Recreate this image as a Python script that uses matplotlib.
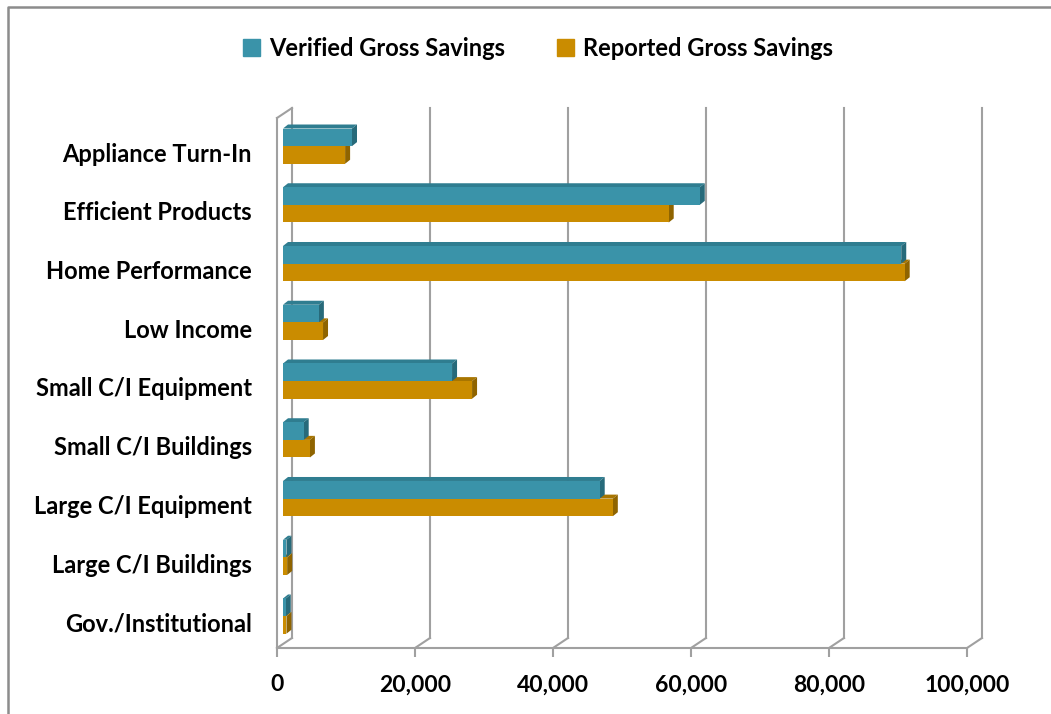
import numpy as np
import matplotlib
matplotlib.use('Agg')
import matplotlib.pyplot as plt
from matplotlib.patches import Polygon
from matplotlib.lines import Line2D

# 数据（从图中读取，单位与原图相同）
categories = ['Appliance Turn-In', 'Efficient Products', 'Home Performance', 'Low Income',
              'Small C/I Equipment', 'Small C/I Buildings', 'Large C/I Equipment',
              'Large C/I Buildings', 'Gov./Institutional']
verified = [10000, 60400, 89600, 5200, 24500, 3000, 45900, 500, 400]
reported = [9000, 55900, 90100, 5800, 27400, 3900, 47800, 600, 500]
xticks = [0, 20000, 40000, 60000, 80000, 100000]
series_names = ['Verified Gross Savings', 'Reported Gross Savings']

teal, teal_dark, teal_top = '#3A93A9', '#276A7A', '#2F7D90'
gold, gold_dark, gold_top = '#CA8C00', '#8F6400', '#A87500'
grid_c = '#A0A0A0'

plt.rcParams['font.family'] = ['Lato', 'DejaVu Sans']
plt.rcParams['font.weight'] = 'bold'

W, H = 1051, 714
fig = plt.figure(figsize=(W / 100, H / 100), dpi=100)
# 前平面：x 0..100000 对应像素 277..967，y 从 108 到 648
ax = fig.add_axes([277 / W, 1 - 648 / H, 690 / W, 540 / H])
ax.set_xlim(0, 100000)
ax.set_ylim(8.443, -0.749)

px_x = 100000 / 690.0     # 每像素对应的数据单位
px_y = 1 / 58.75
back_dx, back_dy = 15 * px_x, 10 * px_y
bar_x0 = 6 * px_x
cap_dx, cap_dy = 5 * px_x, 4 * px_y
y_bottom = 8.443

# 背墙网格线和地面斜线
for v in xticks:
    ax.plot([v + back_dx, v + back_dx], [-0.749, y_bottom - back_dy], color=grid_c, lw=1.5,
            clip_on=False, zorder=1)
    ax.plot([v, v + back_dx], [y_bottom, y_bottom - back_dy], color=grid_c, lw=1.5,
            clip_on=False, zorder=1)
# 左侧墙顶部斜线
ax.plot([0, back_dx], [-0.579, -0.749], color=grid_c, lw=1.5, clip_on=False, zorder=1)

# 条形（前面 + 顶面 + 端面）
rows = np.arange(len(categories))
h = 0.3
for vals, top_off, c, cd, ct in [(reported, -0.10, gold, gold_dark, gold_top),
                                 (verified, -0.40, teal, teal_dark, teal_top)]:
    ax.barh(rows + top_off, vals, height=h, left=bar_x0, align='edge', color=c, zorder=3)
    for r, v in zip(rows, vals):
        y0 = r + top_off
        y1 = y0 + h
        x1 = bar_x0 + v
        top = Polygon([(bar_x0, y0), (x1, y0), (x1 + cap_dx, y0 - cap_dy), (bar_x0 + cap_dx, y0 - cap_dy)],
                      closed=True, color=ct, lw=0, zorder=2)
        cap = Polygon([(x1, y0), (x1, y1), (x1 + cap_dx, y1 - cap_dy), (x1 + cap_dx, y0 - cap_dy)],
                      closed=True, color=cd, lw=0, zorder=2)
        ax.add_patch(top)
        ax.add_patch(cap)

# 坐标轴
for s in ['top', 'right']:
    ax.spines[s].set_visible(False)
ax.spines['bottom'].set_color(grid_c)
ax.spines['bottom'].set_linewidth(1.5)
ax.spines['left'].set_color(grid_c)
ax.spines['left'].set_linewidth(1.5)
ax.spines['left'].set_bounds(-0.579, y_bottom)

ax.set_xticks(xticks)
ax.set_xticklabels([f'{v:,}' for v in xticks], fontsize=16.5, fontweight='bold')
ax.tick_params(axis='x', length=6.5, width=1.5, color=grid_c, pad=12.5)
ax.set_yticks(rows)
ax.set_yticklabels(categories, fontsize=17, fontweight='bold')
ax.tick_params(axis='y', length=0, pad=18)

# 图例
handles = [plt.Rectangle((0, 0), 1, 1, color=teal), plt.Rectangle((0, 0), 1, 1, color=gold)]
fig.legend(handles, series_names, loc='center', bbox_to_anchor=(538 / W, 1 - 48 / H), ncol=2,
           frameon=False, handlelength=0.7, handleheight=0.7, handletextpad=0.4,
           columnspacing=2.2, prop={'weight': 'bold', 'size': 17})

# 外框
fig.add_artist(Line2D([8 / W, 8 / W, 1], [0, 1 - 7 / H, 1 - 7 / H], transform=fig.transFigure,
                      color='#8C8C8C', lw=1.8))

fig.savefig('out.png', dpi=100)
